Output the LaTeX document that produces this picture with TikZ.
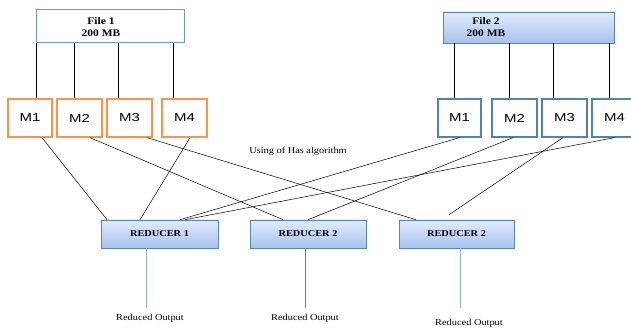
\documentclass[tikz,border=0pt]{standalone}
\usepackage{fontspec}
\setmainfont{Liberation Serif}[FakeStretch=1.15]
\setsansfont{Liberation Sans}[FakeStretch=1.3]
\usetikzlibrary{shadows}
\definecolor{orangeM}{HTML}{F79646}
\definecolor{blueM}{HTML}{4F81BD}
\definecolor{fileborder}{HTML}{6A9AD6}
\definecolor{gradtop}{HTML}{E2ECFC}
\definecolor{gradbot}{HTML}{A6C2EF}
\definecolor{outlight}{HTML}{8FB0E0}
\definecolor{outdark}{HTML}{4F7FC0}
\tikzset{
  filebox/.style={draw=fileborder, line width=1pt, inner sep=0pt},
  gradbox/.style={draw=fileborder!85!black, line width=0.6pt, inner sep=0pt,
    top color=gradtop, bottom color=gradbot,
    drop shadow={shadow xshift=1pt, shadow yshift=-1.2pt, opacity=0.35, fill=gray}},
  filelbl/.style={font=\bfseries\fontsize{10}{11.5}\selectfont, align=center, inner sep=0pt},
  mbox/.style={draw, line width=1.3pt, fill=white, inner sep=0pt,
    minimum width=45pt, minimum height=38pt, font=\sffamily\fontsize{11.5}{13}\selectfont},
  om/.style={mbox, draw=orangeM},
  bm/.style={mbox, draw=blueM},
  redbox/.style={gradbox, minimum height=28pt, font=\bfseries\fontsize{9}{10}\selectfont},
  link/.style={draw=black, line width=0.5pt},
  outlbl/.style={font=\fontsize{9}{10}\selectfont, inner sep=0pt},
}
\begin{document}
\begin{tikzpicture}[x=1pt,y=-1pt]
\useasboundingbox (0,0) rectangle (631,328);
% files
\node[filebox, minimum width=148pt, minimum height=33pt] (f1) at (110,26.5) {};
\node[filelbl] (f1t) at (101,27) {File 1\\200 MB};
\node[gradbox, minimum width=171pt, minimum height=31pt] (f2) at (528.5,27.5) {};
\node[filelbl] (f2t) at (486,27) {File 2\\200 MB};
% mappers
\node[om, minimum width=44pt] (om1) at (30,118) {M1};
\node[om] (om2) at (79.5,118) {M2};
\node[om] (om3) at (129.5,118) {M3};
\node[om] (om4) at (184.5,118) {M4};
\node[bm, minimum width=43pt] (bm1) at (459.5,118) {M1};
\node[bm] (bm2) at (514.5,118) {M2};
\node[bm] (bm3) at (564.5,118) {M3};
\node[bm] (bm4) at (614.5,118) {M4};
% reducers
\node[redbox, minimum width=117pt] (r1) at (159.5,234) {REDUCER 1};
\node[redbox, minimum width=116pt] (r2) at (308,234) {REDUCER 2};
\node[redbox, minimum width=115pt] (r3) at (456.5,234) {REDUCER 2};
% file to mapper lines
\draw[link] ([xshift=6pt]om1.north) -- ([xshift=6pt]om1.north |- f1.south);
\draw[link] ([xshift=-5.5pt]om2.north) -- ([xshift=-5.5pt]om2.north |- f1.south);
\draw[link] ([xshift=-11.5pt]om3.north) -- ([xshift=-11.5pt]om3.north |- f1.south);
\draw[link] ([xshift=-11.5pt]om4.north) -- ([xshift=-11.5pt]om4.north |- f1.south);
\draw[link] ([xshift=-5.5pt]bm1.north) -- ([xshift=-5.5pt]bm1.north |- f2.south);
\draw[link] ([xshift=-5.5pt]bm2.north) -- ([xshift=-5.5pt]bm2.north |- f2.south);
\draw[link] ([xshift=-11.5pt]bm3.north) -- ([xshift=-11.5pt]bm3.north |- f2.south);
\draw[link] ([xshift=-5.5pt]bm4.north) -- ([xshift=-5.5pt]bm4.north |- f2.south);
% mapper to reducer lines
\draw[link] ([xshift=12pt]om1.south) -- ([xshift=-52.5pt]r1.north);
\draw[link] ([xshift=10.5pt]om2.south) -- ([xshift=-25pt]r2.north);
\draw[link] ([xshift=17.5pt]om3.south) -- ([xshift=-40.5pt]r3.north);
\draw[link] ([xshift=5.5pt]om4.south) -- ([xshift=-19.5pt]r1.north);
\draw[link] (bm1.south) -- ([xshift=20.5pt]r1.north);
\draw[link] ([xshift=-1.5pt]bm2.south) -- (r2.north);
\draw[link] ([xshift=-1.5pt]bm3.south) -- ([xshift=-7.5pt,yshift=5pt]r3.north);
\draw[link] (bm4.south) -- ([xshift=25.5pt]r1.north);
% algorithm label
\node[outlbl] (alg) at (298,151) {Using of Has algorithm};
% outputs
\coordinate (o1) at (146,308);
\coordinate (o2) at (305,308);
\coordinate (o3) at (460,308);
\draw[draw=outlight, line width=0.7pt] (r1.south -| o1) -- (o1);
\draw[draw=outdark, line width=0.7pt] (r2.south -| o2) -- (o2);
\draw[draw=outlight, line width=0.7pt] (r3.south -| o3) -- (o3);
\node[outlbl] (l1) at (150,318) {Reduced Output};
\node[outlbl] (l2) at (305,318) {Reduced Output};
\node[outlbl] (l3) at (469,323) {Reduced Output};
\end{tikzpicture}
\end{document}
